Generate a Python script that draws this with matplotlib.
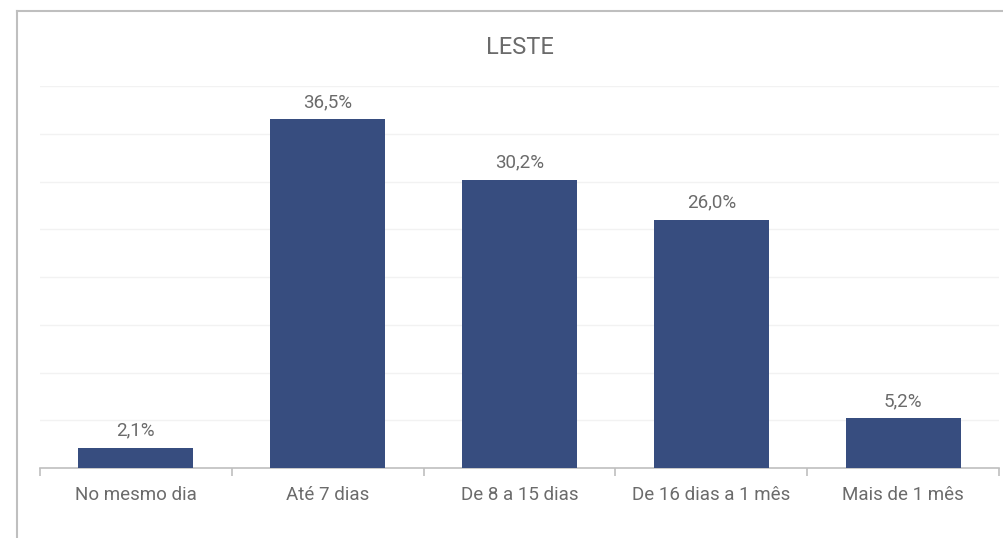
import numpy as np
import matplotlib.pyplot as plt
from matplotlib.lines import Line2D

categorias = ['No mesmo dia', 'Até 7 dias', 'De 8 a 15 dias', 'De 16 dias a 1 mês', 'Mais de 1 mês']
valores = [2.1, 36.5, 30.2, 26.0, 5.2]
rotulos = ['2,1%', '36,5%', '30,2%', '26,0%', '5,2%']

plt.rcParams['font.family'] = ['Roboto', 'DejaVu Sans']

fig = plt.figure(figsize=(10.04, 5.38), dpi=100)
ax = fig.add_axes([40 / 1004, 70 / 538, 959 / 1004, 382 / 538])

x = np.arange(len(categorias))
bars = ax.bar(x, valores, width=0.6, color='#374D7F', zorder=3)

for b, txt in zip(bars, rotulos):
    ax.annotate(txt, (b.get_x() + b.get_width() / 2, b.get_height()),
                xytext=(0, 6), textcoords='offset points',
                ha='center', va='bottom', fontsize=13.5, color='#6B6B6B')

ax.set_xlim(-0.5, len(categorias) - 0.5)
ax.set_ylim(0, 40)
ax.set_yticks(np.arange(0, 41, 5))
ax.yaxis.grid(True, color='#F2F2F2', lw=1, zorder=0)
ax.tick_params(axis='y', left=False, labelleft=False)

ax.set_xticks(x)
ax.set_xticklabels(categorias, fontsize=13.5, color='#6B6B6B')
ax.tick_params(axis='x', which='major', length=0, pad=13)
ax.set_xticks(np.arange(-0.5, len(categorias), 1), minor=True)
ax.tick_params(axis='x', which='minor', length=6, color='#BFBFBF', width=1.2)

for s in ['top', 'right', 'left']:
    ax.spines[s].set_visible(False)
ax.spines['bottom'].set_color('#BFBFBF')
ax.spines['bottom'].set_linewidth(1.2)

fig.text(0.5 * (40 + 999) / 1004, 1 - 47 / 538, 'LESTE', ha='center', va='center',
         fontsize=17, color='#6B6B6B')

# moldura do gráfico (só esquerda e topo visíveis)
fig.add_artist(Line2D([17 / 1004, 17 / 1004], [0, 1 - 11 / 538], transform=fig.transFigure,
                      color='#BFBFBF', lw=1.5))
fig.add_artist(Line2D([17 / 1004, 1], [1 - 11 / 538, 1 - 11 / 538], transform=fig.transFigure,
                      color='#BFBFBF', lw=1.5))

fig.savefig('out.png', dpi=100, facecolor='white')
